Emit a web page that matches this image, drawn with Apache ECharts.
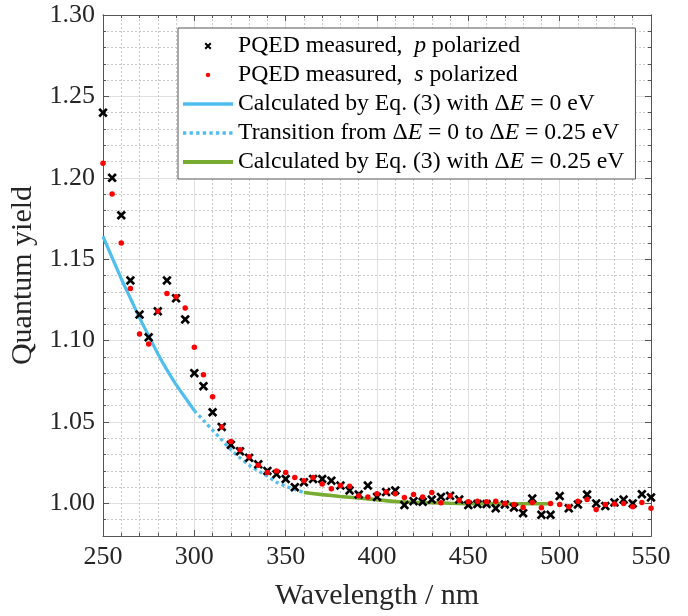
<!DOCTYPE html>
<html>
<head>
<meta charset="utf-8">
<script src="https://cdn.jsdelivr.net/npm/echarts@6/dist/echarts.min.js"></script>
<style>
html,body{margin:0;padding:0;background:#fff;}
#chart{width:688px;height:616px;}
</style>
</head>
<body>
<div id="chart"></div>
<script>
// ---- data ----
const wavelength = [250,255,260,265,270,275,280,285,290,295,
  300,305,310,315,320,325,330,335,340,345,
  350,355,360,365,370,375,380,385,390,395,
  400,405,410,415,420,425,430,435,440,445,
  450,455,460,465,470,475,480,485,490,495,
  500,505,510,515,520,525,530,535,540,545,
  550];
const pPolarized = [1.240,1.200,1.177,1.137,1.116,1.102,1.118,1.137,1.126,1.113,
  1.080,1.072,1.056,1.047,1.036,1.032,1.028,1.024,1.020,1.018,
  1.015,1.010,1.013,1.015,1.015,1.014,1.011,1.008,1.0055,1.011,
  1.004,1.007,1.008,0.999,1.0014,1.001,1.0024,1.004,1.0047,1.0024,
  0.999,0.9996,0.9996,0.997,0.9994,0.9975,0.994,1.003,0.993,0.993,
  1.0045,0.997,0.9994,1.0055,1.000,0.9984,1.0006,1.0024,1.000,1.0057,
  1.0037];
const sPolarized = [1.209,1.190,1.160,1.132,1.104,1.098,1.118,1.129,1.127,1.120,
  1.096,1.079,1.0655,1.047,1.038,1.033,1.0286,1.0235,1.019,1.020,
  1.019,1.016,1.014,1.016,1.012,1.009,1.011,1.0106,1.0047,1.004,
  1.006,1.007,1.006,1.0037,1.0055,1.004,1.0067,1.0004,1.0047,1.002,
  1.001,1.0014,1.001,1.0014,1.000,0.9994,0.9975,1.0006,0.9974,1.000,
  0.9994,0.998,1.0014,1.0024,0.9963,0.9994,0.9996,1.000,0.998,1.0006,
  0.997];
const calc0X = [250,255,260,265,270,275,280,285,290,295,300];
const calc0Y = [1.164,1.151,1.138,1.126,1.114,1.103,1.092,1.082,1.073,1.065,1.057];
const transX = [300,305,310,315,320,325,330,335,340,345,350,355,360];
const transY = [1.057,1.051,1.045,1.039,1.033,1.028,1.0235,1.020,1.0167,1.013,1.0105,1.0085,1.0067];
const calc25X = [360,370,380,390,400,410,420,430,440,450,460,470,480,490,495];
const calc25Y = [1.0067,1.0054,1.0043,1.0033,1.0023,1.0012,1.0007,1.0004,1.0001,0.9999,0.9998,0.9998,0.9998,0.9998,0.9998];

const xTickMin = 250, xTickMax = 550, xTickStep = 50;
const yMin = 0.98, yMax = 1.30, yMinorStep = 0.01;

const seriesNames = [
  'PQED measured, p polarized',
  'PQED measured, s polarized',
  'Calculated by Eq. (3) with ΔE = 0 eV',
  'Transition from ΔE = 0 to ΔE = 0.25 eV',
  'Calculated by Eq. (3) with ΔE = 0.25 eV'
];
const legendRich = [
  '{n|PQED measured,  }{i|p}{n| polarized}',
  '{n|PQED measured,  }{i|s}{n| polarized}',
  '{n|Calculated by Eq. (3) with Δ}{i|E}{n| = 0 eV}',
  '{n|Transition from Δ}{i|E}{n| = 0 to Δ}{i|E}{n| = 0.25 eV}',
  '{n|Calculated by Eq. (3) with Δ}{i|E}{n| = 0.25 eV}'
];

const zip = (xs, ys) => xs.map((x, i) => [x, ys[i]]);

const FONT = 'Liberation Serif';
const AX = '#555555';
const TXT = '#262626';
const BLUE = '#4dbeee';
const GREEN = '#77ac30';
const crossPath = 'path://M0,2L2,0L5,3L8,0L10,2L7,5L10,8L8,10L5,7L2,10L0,8L3,5Z';
const crossLegend = 'path://M-30.7,0M40.7,10M0,2L2,0L5,3L8,0L10,2L7,5L10,8L8,10L5,7L2,10L0,8L3,5Z';
const dotLegend = 'path://M-22.86,-3.2M22.86,3.2M-2,0A2,2,0,1,0,2,0A2,2,0,1,0,-2,0Z';
// legend line icons drawn as filled bars inside a 50x7 box
const solidLegend = 'path://M0,0M50,7M0,1.75L50,1.75L50,5.25L0,5.25Z';
const greenLegend = 'path://M0,0M50,7M0,1.5L50,1.5L50,5.5L0,5.5Z';
let dottedLegend = 'path://M0,0M50,7';
for (let k = 0; k < 8; k++) {
  const x0 = k * 6.6, x1 = x0 + 3.3;
  dottedLegend += 'M' + x0 + ',1.85L' + x1 + ',1.85L' + x1 + ',5.15L' + x0 + ',5.15Z';
}

const chart = echarts.init(document.getElementById('chart'), null, {renderer: 'canvas'});

const xCommon = {
  type: 'value', min: xTickMin, max: xTickMax, interval: xTickStep,
  axisLine: {show: true, onZero: false, lineStyle: {color: AX, width: 1}},
  axisTick: {show: true, inside: true, length: 6, lineStyle: {color: AX}},
  minorTick: {show: true, splitNumber: 5, length: 3, lineStyle: {color: AX}}
};
const FS_LEG = 23.7;

const option = {
  animation: false,
  backgroundColor: '#fff',
  grid: {left: 103, top: 15, width: 548, height: 523, containLabel: false},
  legend: {
    orient: 'vertical', left: 178, top: 28,
    itemWidth: 50, itemHeight: 7, itemGap: 5,
    padding: [6, 11, 5, 5],
    backgroundColor: '#fff', borderColor: AX, borderWidth: 1, borderRadius: 0,
    selectedMode: false,
    data: [
      {name: seriesNames[0], icon: crossLegend},
      {name: seriesNames[1], icon: dotLegend},
      {name: seriesNames[2], icon: solidLegend},
      {name: seriesNames[3], icon: dottedLegend},
      {name: seriesNames[4], icon: greenLegend}
    ],
    formatter: name => legendRich[seriesNames.indexOf(name)],
    textStyle: {
      fontFamily: FONT, fontSize: FS_LEG, color: '#000', lineHeight: 24,
      rich: {
        n: {fontFamily: FONT, fontSize: FS_LEG, color: '#000', lineHeight: 24},
        i: {fontFamily: FONT, fontSize: FS_LEG, color: '#000', fontStyle: 'italic', lineHeight: 24}
      }
    }
  },
  xAxis: [
    Object.assign({}, xCommon, {
      position: 'bottom',
      name: 'Wavelength / nm', nameLocation: 'middle', nameGap: 45,
      nameTextStyle: {fontFamily: FONT, fontSize: 30, color: TXT},
      axisLabel: {show: true, margin: 8, fontFamily: FONT, fontSize: 26, color: TXT},
      splitLine: {show: true, lineStyle: {color: '#e0e0e0', width: 1}},
      minorSplitLine: {show: true, lineStyle: {color: '#c8c8c8', width: 1, type: [2, 2]}}
    }),
    Object.assign({}, xCommon, {
      position: 'top',
      axisLabel: {show: false},
      splitLine: {show: false}
    })
  ],
  yAxis: [
    {
      type: 'value', min: yMin, max: yMax, interval: yMinorStep, position: 'left',
      axisLine: {show: true, lineStyle: {color: AX}},
      axisTick: {show: true, inside: true, length: 3, lineStyle: {color: AX}},
      axisLabel: {show: false},
      splitLine: {show: true, lineStyle: {color: '#c8c8c8', width: 1, type: [2, 2]}}
    },
    {
      type: 'value', min: yMin, max: yMax, splitNumber: 5, position: 'left',
      name: 'Quantum yield', nameLocation: 'middle', nameGap: 61,
      nameTextStyle: {fontFamily: FONT, fontSize: 30, color: TXT},
      axisLine: {show: true, lineStyle: {color: AX}},
      axisTick: {show: true, inside: true, length: 6, lineStyle: {color: AX}},
      axisLabel: {show: true, margin: 8, fontFamily: FONT, fontSize: 26, color: TXT,
        showMinLabel: false, formatter: v => v.toFixed(2)},
      splitLine: {show: true, lineStyle: {color: '#e0e0e0', width: 1}}
    },
    {
      type: 'value', min: yMin, max: yMax, interval: yMinorStep, position: 'right',
      axisLine: {show: true, lineStyle: {color: AX}},
      axisTick: {show: true, inside: true, length: 3, lineStyle: {color: AX}},
      axisLabel: {show: false}, splitLine: {show: false}
    },
    {
      type: 'value', min: yMin, max: yMax, splitNumber: 5, position: 'right',
      axisLine: {show: true, lineStyle: {color: AX}},
      axisTick: {show: true, inside: true, length: 6, lineStyle: {color: AX}},
      axisLabel: {show: false}, splitLine: {show: false}
    }
  ],
  series: [
    {
      name: seriesNames[2], type: 'line', xAxisIndex: 0, yAxisIndex: 0,
      data: zip(calc0X, calc0Y), showSymbol: false, symbol: 'none', smooth: 0.3,
      lineStyle: {color: BLUE, width: 3.2}, itemStyle: {color: BLUE}, z: 2
    },
    {
      name: seriesNames[3], type: 'line', xAxisIndex: 0, yAxisIndex: 0,
      data: zip(transX, transY), showSymbol: false, symbol: 'none', smooth: 0.3,
      lineStyle: {color: BLUE, width: 3.2, type: 'dotted'}, itemStyle: {color: BLUE}, z: 2
    },
    {
      name: seriesNames[4], type: 'line', xAxisIndex: 0, yAxisIndex: 0,
      data: zip(calc25X, calc25Y), showSymbol: false, symbol: 'none', smooth: 0.3,
      lineStyle: {color: GREEN, width: 3.6}, itemStyle: {color: GREEN}, z: 2
    },
    {
      name: seriesNames[0], type: 'scatter', xAxisIndex: 0, yAxisIndex: 0,
      data: zip(wavelength, pPolarized), symbol: crossPath, symbolSize: 9.5,
      itemStyle: {color: '#000', opacity: 1}, z: 3
    },
    {
      name: seriesNames[1], type: 'scatter', xAxisIndex: 0, yAxisIndex: 0,
      data: zip(wavelength, sPolarized), symbol: 'circle', symbolSize: 5.5,
      itemStyle: {color: '#ff0000', opacity: 1}, z: 4
    }
  ]
};
chart.setOption(option);
</script>
</body>
</html>
